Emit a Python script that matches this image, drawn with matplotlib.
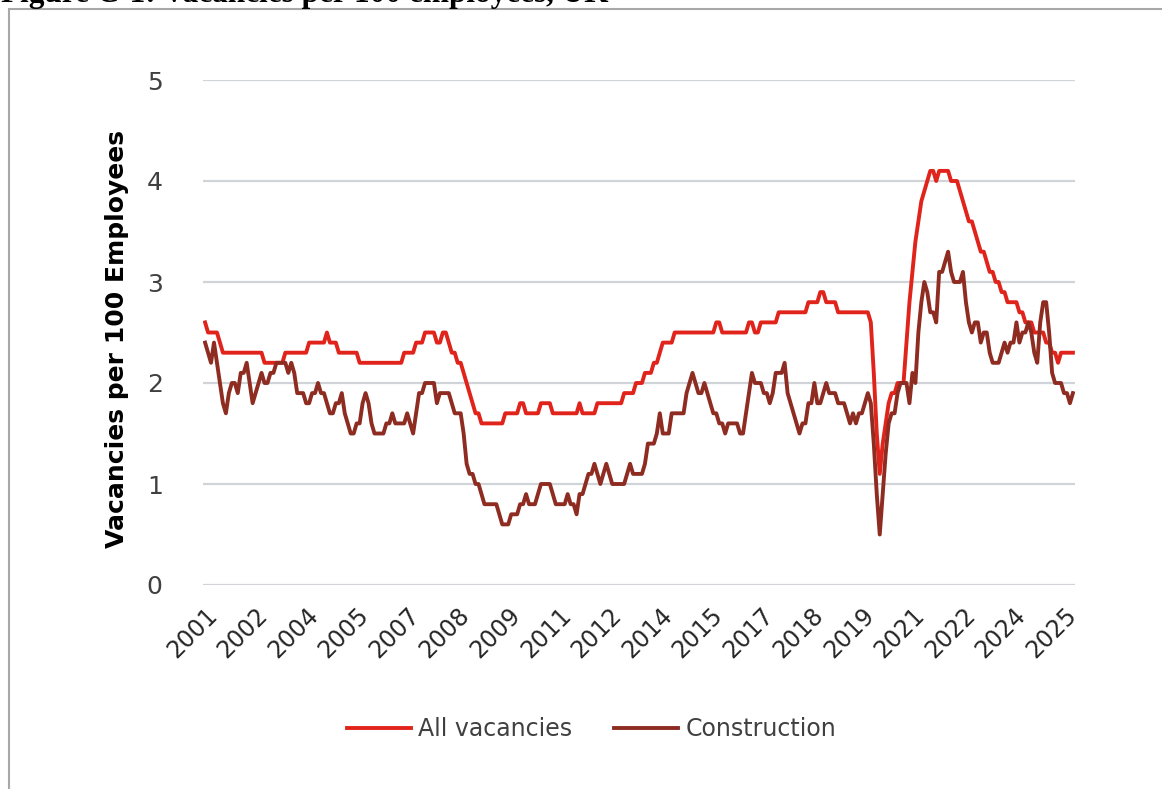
import numpy as np
import matplotlib
matplotlib.use("Agg")
import matplotlib.pyplot as plt
from matplotlib.patches import Rectangle

# Datos mensuales (desde jun-2001), vacantes por cada 100 empleados
todas = [
    2.6, 2.5, 2.5, 2.5, 2.5, 2.4, 2.3, 2.3, 2.3, 2.3, 2.3, 2.3,
    2.3, 2.3, 2.3, 2.3, 2.3, 2.3, 2.3, 2.3, 2.2, 2.2, 2.2, 2.2,
    2.2, 2.2, 2.2, 2.3, 2.3, 2.3, 2.3, 2.3, 2.3, 2.3, 2.3, 2.4,
    2.4, 2.4, 2.4, 2.4, 2.4, 2.5, 2.4, 2.4, 2.4, 2.3, 2.3, 2.3,
    2.3, 2.3, 2.3, 2.3, 2.2, 2.2, 2.2, 2.2, 2.2, 2.2, 2.2, 2.2,
    2.2, 2.2, 2.2, 2.2, 2.2, 2.2, 2.2, 2.3, 2.3, 2.3, 2.3, 2.4,
    2.4, 2.4, 2.5, 2.5, 2.5, 2.5, 2.4, 2.4, 2.5, 2.5, 2.4, 2.3,
    2.3, 2.2, 2.2, 2.1, 2.0, 1.9, 1.8, 1.7, 1.7, 1.6, 1.6, 1.6,
    1.6, 1.6, 1.6, 1.6, 1.6, 1.7, 1.7, 1.7, 1.7, 1.7, 1.8, 1.8,
    1.7, 1.7, 1.7, 1.7, 1.7, 1.8, 1.8, 1.8, 1.8, 1.7, 1.7, 1.7,
    1.7, 1.7, 1.7, 1.7, 1.7, 1.7, 1.8, 1.7, 1.7, 1.7, 1.7, 1.7,
    1.8, 1.8, 1.8, 1.8, 1.8, 1.8, 1.8, 1.8, 1.8, 1.9, 1.9, 1.9,
    1.9, 2.0, 2.0, 2.0, 2.1, 2.1, 2.1, 2.2, 2.2, 2.3, 2.4, 2.4,
    2.4, 2.4, 2.5, 2.5, 2.5, 2.5, 2.5, 2.5, 2.5, 2.5, 2.5, 2.5,
    2.5, 2.5, 2.5, 2.5, 2.6, 2.6, 2.5, 2.5, 2.5, 2.5, 2.5, 2.5,
    2.5, 2.5, 2.5, 2.6, 2.6, 2.5, 2.5, 2.6, 2.6, 2.6, 2.6, 2.6,
    2.6, 2.7, 2.7, 2.7, 2.7, 2.7, 2.7, 2.7, 2.7, 2.7, 2.7, 2.8,
    2.8, 2.8, 2.8, 2.9, 2.9, 2.8, 2.8, 2.8, 2.8, 2.7, 2.7, 2.7,
    2.7, 2.7, 2.7, 2.7, 2.7, 2.7, 2.7, 2.7, 2.6, 2.1, 1.5, 1.1,
    1.4, 1.6, 1.8, 1.9, 1.9, 2.0, 2.0, 2.0, 2.4, 2.8, 3.1, 3.4,
    3.6, 3.8, 3.9, 4.0, 4.1, 4.1, 4.0, 4.1, 4.1, 4.1, 4.1, 4.0,
    4.0, 4.0, 3.9, 3.8, 3.7, 3.6, 3.6, 3.5, 3.4, 3.3, 3.3, 3.2,
    3.1, 3.1, 3.0, 3.0, 2.9, 2.9, 2.8, 2.8, 2.8, 2.8, 2.7, 2.7,
    2.6, 2.6, 2.6, 2.5, 2.5, 2.5, 2.5, 2.4, 2.4, 2.3, 2.3, 2.2,
    2.3, 2.3, 2.3, 2.3, 2.3,
]

construccion = [
    2.4, 2.3, 2.2, 2.4, 2.2, 2.0, 1.8, 1.7, 1.9, 2.0, 2.0, 1.9,
    2.1, 2.1, 2.2, 2.0, 1.8, 1.9, 2.0, 2.1, 2.0, 2.0, 2.1, 2.1,
    2.2, 2.2, 2.2, 2.2, 2.1, 2.2, 2.1, 1.9, 1.9, 1.9, 1.8, 1.8,
    1.9, 1.9, 2.0, 1.9, 1.9, 1.8, 1.7, 1.7, 1.8, 1.8, 1.9, 1.7,
    1.6, 1.5, 1.5, 1.6, 1.6, 1.8, 1.9, 1.8, 1.6, 1.5, 1.5, 1.5,
    1.5, 1.6, 1.6, 1.7, 1.6, 1.6, 1.6, 1.6, 1.7, 1.6, 1.5, 1.7,
    1.9, 1.9, 2.0, 2.0, 2.0, 2.0, 1.8, 1.9, 1.9, 1.9, 1.9, 1.8,
    1.7, 1.7, 1.7, 1.5, 1.2, 1.1, 1.1, 1.0, 1.0, 0.9, 0.8, 0.8,
    0.8, 0.8, 0.8, 0.7, 0.6, 0.6, 0.6, 0.7, 0.7, 0.7, 0.8, 0.8,
    0.9, 0.8, 0.8, 0.8, 0.9, 1.0, 1.0, 1.0, 1.0, 0.9, 0.8, 0.8,
    0.8, 0.8, 0.9, 0.8, 0.8, 0.7, 0.9, 0.9, 1.0, 1.1, 1.1, 1.2,
    1.1, 1.0, 1.1, 1.2, 1.1, 1.0, 1.0, 1.0, 1.0, 1.0, 1.1, 1.2,
    1.1, 1.1, 1.1, 1.1, 1.2, 1.4, 1.4, 1.4, 1.5, 1.7, 1.5, 1.5,
    1.5, 1.7, 1.7, 1.7, 1.7, 1.7, 1.9, 2.0, 2.1, 2.0, 1.9, 1.9,
    2.0, 1.9, 1.8, 1.7, 1.7, 1.6, 1.6, 1.5, 1.6, 1.6, 1.6, 1.6,
    1.5, 1.5, 1.7, 1.9, 2.1, 2.0, 2.0, 2.0, 1.9, 1.9, 1.8, 1.9,
    2.1, 2.1, 2.1, 2.2, 1.9, 1.8, 1.7, 1.6, 1.5, 1.6, 1.6, 1.8,
    1.8, 2.0, 1.8, 1.8, 1.9, 2.0, 1.9, 1.9, 1.9, 1.8, 1.8, 1.8,
    1.7, 1.6, 1.7, 1.6, 1.7, 1.7, 1.8, 1.9, 1.8, 1.4, 0.9, 0.5,
    0.9, 1.3, 1.6, 1.7, 1.7, 1.9, 2.0, 2.0, 2.0, 1.8, 2.1, 2.0,
    2.5, 2.8, 3.0, 2.9, 2.7, 2.7, 2.6, 3.1, 3.1, 3.2, 3.3, 3.1,
    3.0, 3.0, 3.0, 3.1, 2.8, 2.6, 2.5, 2.6, 2.6, 2.4, 2.5, 2.5,
    2.3, 2.2, 2.2, 2.2, 2.3, 2.4, 2.3, 2.4, 2.4, 2.6, 2.4, 2.5,
    2.5, 2.6, 2.5, 2.3, 2.2, 2.6, 2.8, 2.8, 2.5, 2.1, 2.0, 2.0,
    2.0, 1.9, 1.9, 1.8, 1.9,
]

# Etiquetas del eje x (una cada 17 meses, como en el original)
anios = ["2001", "2002", "2004", "2005", "2007", "2008", "2009", "2011", "2012",
         "2014", "2015", "2017", "2018", "2019", "2021", "2022", "2024", "2025"]
PASO = 17

ROJO = "#e0231b"
MARRON = "#8e2c22"
GRIS = "#404040"
FUENTE = "DejaVu Sans"

n = len(todas)
x = np.arange(n)

fig = plt.figure(figsize=(11.62, 7.89), dpi=100)
ax = fig.add_axes([203/1162, 1 - 585/789, (1075 - 203)/1162, (585 - 80)/789])

ax.plot(x, todas, color=ROJO, lw=2.8, label="All vacancies", solid_joinstyle="round")
ax.plot(x, construccion, color=MARRON, lw=2.8, label="Construction", solid_joinstyle="round")

ax.set_xlim(-0.7, n - 0.3)
ax.set_ylim(0, 5)
ax.set_yticks([0, 1, 2, 3, 4, 5])
ax.grid(axis="y", color="#d0d3d8", lw=1.6)
ax.set_axisbelow(True)
for s in ax.spines.values():
    s.set_visible(False)

ax.set_xticks(x[::PASO])
ax.set_xticklabels(anios, rotation=45, ha="right", va="top",
                   rotation_mode="anchor", fontsize=17, family=FUENTE, color="#262626")
ax.tick_params(axis="x", length=0, pad=13)
ax.tick_params(axis="y", length=0, pad=29, labelsize=18, labelcolor=GRIS)
for t in ax.get_yticklabels():
    t.set_family(FUENTE)

fig.text(117/1162, 1 - 339/789, "Vacancies per 100 Employees", rotation=90,
         ha="center", va="center", fontsize=18, fontweight="bold", family=FUENTE)

fig.legend(loc="center", bbox_to_anchor=(0.509, 1 - 729/789), ncol=2, frameon=False,
           prop={"family": FUENTE, "size": 17}, handlelength=2.7, handletextpad=0.3,
           columnspacing=1.8, labelcolor=GRIS)

# Marco gris y título recortado arriba
fig.patches.append(Rectangle((9/1162, -0.2), 1.2, 1 - 9/789 + 0.2, transform=fig.transFigure,
                             fill=False, edgecolor="#a8a8a8", lw=1.5))
fig.text(1/1162, 1 - 2/789, "Figure C-1: Vacancies per 100 employees, UK", ha="left",
         va="baseline", fontsize=22.5, fontweight="bold", family="Liberation Serif")

fig.savefig("out.png", dpi=100)
